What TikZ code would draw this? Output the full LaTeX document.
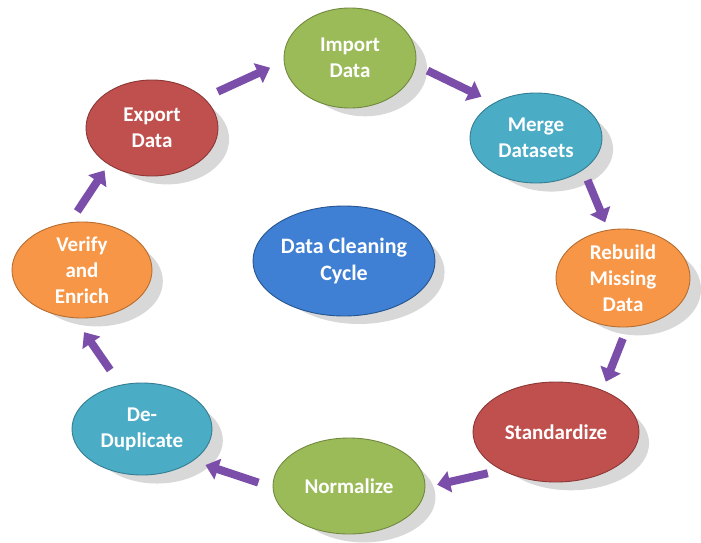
\documentclass[tikz,border=0pt]{standalone}
\usepackage{fontspec}
\setmainfont{Carlito}
\usetikzlibrary{shapes.geometric,arrows.meta,shadows}

\definecolor{stgreen}{HTML}{9BBB59}
\definecolor{stgreenline}{HTML}{71893F}
\definecolor{stred}{HTML}{C0504D}
\definecolor{stredline}{HTML}{8C3836}
\definecolor{stteal}{HTML}{4BACC6}
\definecolor{sttealline}{HTML}{357D91}
\definecolor{storange}{HTML}{F79646}
\definecolor{storangeline}{HTML}{B66D31}
\definecolor{stblue}{HTML}{3F80D4}
\definecolor{stblueline}{HTML}{26558F}
\definecolor{flowpurple}{HTML}{7B4FA9}

\begin{document}
\begin{tikzpicture}[x=1pt, y=-1pt,
  stage/.style={ellipse, line width=0.9pt, inner sep=0pt, text=white, align=center,
    font=\fontsize{21}{26}\selectfont\bfseries,
    drop shadow={shadow xshift=16pt, shadow yshift=-12pt, shadow scale=0.94,
      opacity=0.25, fill=black!60}},
  flow/.style={line width=8pt, draw=flowpurple, -{Triangle[length=13pt, width=21pt]}}]
  \useasboundingbox[fill=white] (0,0) rectangle (701,543);
  % draw the stages of the cycle
  \node[stage, fill=stgreen, draw=stgreenline, minimum width=132pt, minimum height=100pt] (import) at (350,58) {Import\\Data};
  \node[stage, fill=stteal, draw=sttealline, minimum width=132pt, minimum height=90pt] (merge) at (536,138) {Merge\\Datasets};
  \node[stage, fill=storange, draw=storangeline, minimum width=134pt, minimum height=98pt] (rebuild) at (623,278) {Rebuild\\Missing\\Data};
  \node[stage, fill=stred, draw=stredline, minimum width=166pt, minimum height=100pt] (standard) at (556,432) {Standardize};
  \node[stage, fill=stgreen, draw=stgreenline, minimum width=152pt, minimum height=96pt] (normal) at (349,486) {Normalize};
  \node[stage, fill=stteal, draw=sttealline, minimum width=140pt, minimum height=92pt] (dedup) at (142,429) {De-\\Duplicate};
  \node[stage, fill=storange, draw=storangeline, minimum width=140pt, minimum height=96pt] (verify) at (82,270) {Verify\\and\\Enrich};
  \node[stage, fill=stred, draw=stredline, minimum width=132pt, minimum height=96pt] (export) at (152,128) {Export\\Data};
  % draw centre title
  \node[stage, fill=stblue, draw=stblueline, minimum width=182pt, minimum height=110pt,
    font=\fontsize{22}{27}\selectfont\bfseries] (cycle) at (344,261) {Data Cleaning\\Cycle};
  % draw arrows between stages
  \draw[flow, shorten <=15pt, shorten >=15pt] (export.30) -- (import.183);
  \draw[flow, shorten <=13pt, shorten >=14pt] (import.-6) -- (merge.140);
  \draw[flow, shorten <=11pt, shorten >=8pt] (merge.-34) -- (rebuild.107);
  \draw[flow, shorten <=12pt, shorten >=9pt] (rebuild.-85) -- (standard.42);
  \draw[flow, shorten <=14pt, shorten >=12pt] (standard.215) -- (normal.-1);
  \draw[flow, shorten <=15pt, shorten >=13pt] (normal.181) -- (dedup.-32);
  \draw[flow, shorten <=18pt, shorten >=17pt] (dedup.116) -- (verify.261);
  \draw[flow, shorten <=13pt, shorten >=7pt] (verify.104) -- (export.220);
\end{tikzpicture}
\end{document}
